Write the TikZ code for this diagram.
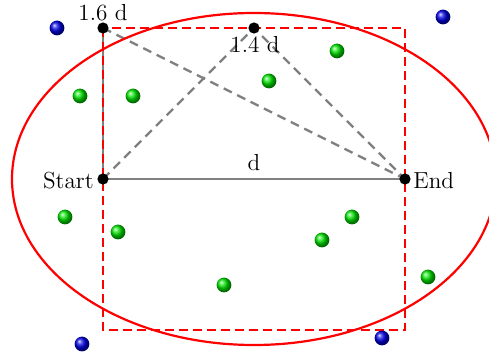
\documentclass[tikz,border=0pt]{standalone}
\usetikzlibrary{shadings}
\begin{document}
\begin{tikzpicture}[x=0.5pt,y=-0.5pt,
  pt/.style={circle,fill=black,inner sep=0pt,minimum size=5.6pt},
  lbl/.style={inner sep=1pt,font=\fontsize{11.6}{13}\selectfont},
  greenball/.style={circle,inner sep=0pt,minimum size=7.4pt,shading=ball,ball color=green!90!black},
  blueball/.style={circle,inner sep=0pt,minimum size=7.4pt,shading=ball,ball color=blue!90!black},
  redd/.style={red,line width=1pt,dash pattern=on 4.5pt off 2.5pt},
  grayd/.style={gray,line width=1.2pt,dash pattern=on 4.5pt off 3pt},
  grays/.style={gray,line width=1.1pt}]
\useasboundingbox (0,0) rectangle (489,358);
% key points
\coordinate (S) at (103,179);
\coordinate (E) at (405,179);
\coordinate (A) at (103,28);
\coordinate (B) at (254,28);
\coordinate (R2) at (405,330);
% gray paths
\draw[grays] (S) -- (E);
\draw[grays] (S) -- (A);
\draw[grayd] (A) -- (E);
\draw[grayd] (S) -- (B) -- (E);
% red rectangle and ellipse
\draw[redd] (A) rectangle (R2);
\draw[red,line width=1.1pt] (254,179) ellipse [x radius=242, y radius=166];
% dots
\node[pt] (s) at (S) {};
\node[pt] (e) at (E) {};
\node[pt] (a) at (A) {};
\node[pt] (b) at (B) {};
% labels
\node[lbl,anchor=east] (ls) at (96,181) {Start};
\node[lbl,anchor=west] (le) at (411,181) {End};
\node[lbl] (la) at (103,13) {1.6 d};
\node[lbl] (lb) at (255,45) {1.4 d};
\node[lbl] (ld) at (254,163) {d};
% balls
\node[blueball] (b1) at (57,28) {};
\node[blueball] (b2) at (443,17) {};
\node[blueball] (b3) at (82,344) {};
\node[blueball] (b4) at (382,338) {};
\node[greenball] (g1) at (80,96) {};
\node[greenball] (g2) at (133,96) {};
\node[greenball] (g3) at (269,81) {};
\node[greenball] (g4) at (337,51) {};
\node[greenball] (g5) at (65,217) {};
\node[greenball] (g6) at (118,232) {};
\node[greenball] (g7) at (224,285) {};
\node[greenball] (g8) at (322,240) {};
\node[greenball] (g9) at (352,217) {};
\node[greenball] (g10) at (428,277) {};
\end{tikzpicture}
\end{document}
